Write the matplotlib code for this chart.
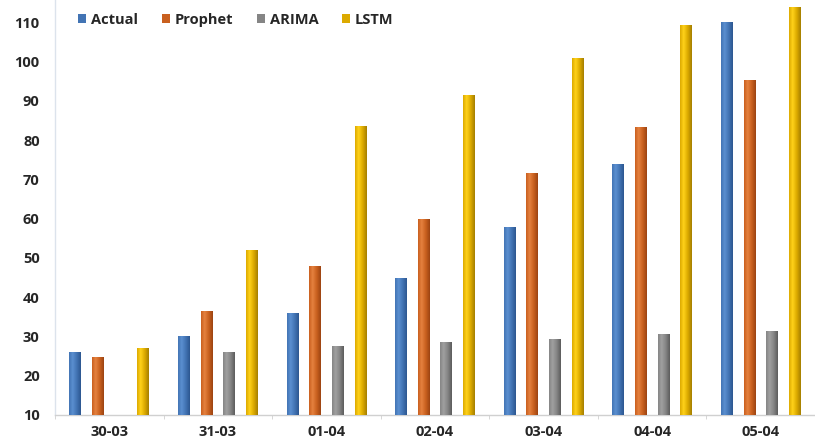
import numpy as np
import matplotlib

matplotlib.use("Agg")

import matplotlib.pyplot as plt
from matplotlib.colors import LinearSegmentedColormap
from matplotlib.patches import Patch

plt.rcParams["font.family"] = ["Open Sans", "DejaVu Sans"]

# Daily values per model
dates = ["30-03", "31-03", "01-04", "02-04", "03-04", "04-04", "05-04"]
actual = [26, 30, 36, 45, 58, 74, 110]
prophet = [24.8, 36.4, 48, 60, 71.7, 83.4, 95.2]
arima = [np.nan, 26.1, 27.6, 28.5, 29.4, 30.6, 31.5]
lstm = [27, 52, 83.5, 91.4, 101, 109.3, 114]

series = ["Actual", "Prophet", "ARIMA", "LSTM"]
values = [actual, prophet, arima, lstm]
# (light, mid, dark) shades for the cylinder look
shades = [
    ("#5b8fd0", "#4274b4", "#2c5690"),
    ("#e5813f", "#c9601f", "#9c4412"),
    ("#a0a0a0", "#858585", "#5c5c5c"),
    ("#ffd21a", "#dcaa00", "#a57f00"),
]

fig = plt.figure(figsize=(8.15, 4.41), dpi=100)
ax = fig.add_axes([55 / 815, 26 / 441, 760 / 815, 415 / 441])

x = np.arange(len(dates))
slot = 0.209
width = 0.108
grad = np.linspace(0, 1, 64).reshape(1, -1)

for k, (name, vals, cols) in enumerate(zip(series, values, shades)):
    cmap = LinearSegmentedColormap.from_list(
        name, [(0, cols[1]), (0.3, cols[0]), (0.65, cols[1]), (1, cols[2])]
    )
    pos = x + (k - 1.5) * slot
    bars = ax.bar(pos, np.array(vals) - 10, width, bottom=10, color=cols[1],
                  zorder=2)
    for b, v in zip(bars, vals):
        if np.isnan(v):
            continue
        x0, w = b.get_x(), b.get_width()
        im = ax.imshow(grad, cmap=cmap, aspect="auto",
                       extent=(x0, x0 + w, 10, v), zorder=3)
        im.set_clip_path(b)

ax.set_xlim(-0.482, 6.427)
ax.set_ylim(10, 115.7)
ax.set_yticks(np.arange(10, 111, 10))
ax.set_xticks(x)
ax.set_xticklabels(dates)
ax.set_xticks(np.arange(-0.5, len(dates), 1), minor=True)

for lab in ax.get_xticklabels() + ax.get_yticklabels():
    lab.set_fontweight("bold")
ax.tick_params(axis="both", which="major", length=0, labelsize=10.5,
               colors="#262626")
ax.tick_params(axis="x", pad=7)
ax.tick_params(axis="y", pad=11)
ax.tick_params(axis="x", which="minor", length=3, color="#d0d0d0")

for side in ["top", "right"]:
    ax.spines[side].set_visible(False)
ax.spines["left"].set_color("#dce3ec")
ax.spines["bottom"].set_color("#d0d0d0")
ax.spines["left"].set_linewidth(1.0)
ax.spines["bottom"].set_linewidth(1.0)

handles = [Patch(facecolor=c[1], edgecolor="none") for c in shades]
leg = ax.legend(handles, series, loc="center left",
                bbox_to_anchor=(10 / 760, 1 - 20 / 415), ncol=4,
                frameon=False, handlelength=0.55, handleheight=0.55,
                handletextpad=0.35, columnspacing=1.6,
                prop={"weight": "bold", "size": 10.5})
for t in leg.get_texts():
    t.set_color("#262626")

fig.savefig("out.png", dpi=100, facecolor="white")
